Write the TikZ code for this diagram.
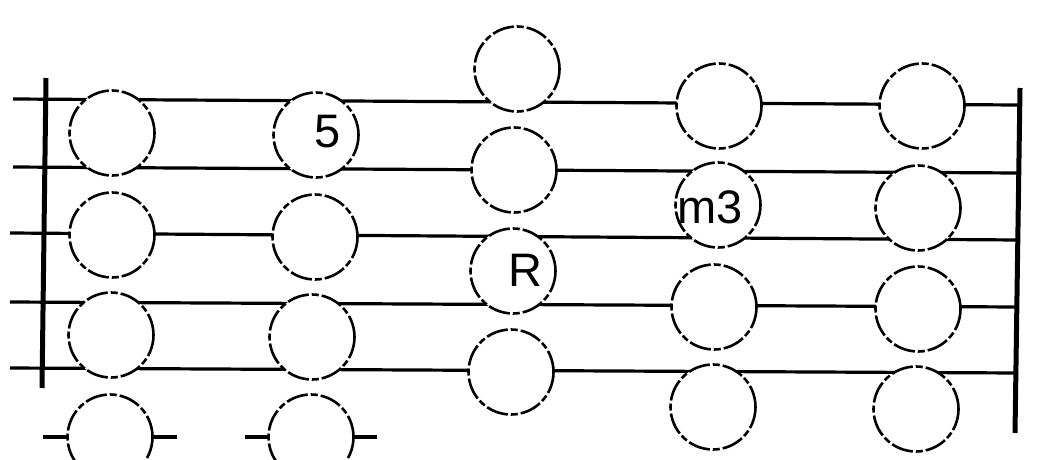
\documentclass[tikz,border=0pt]{standalone}
\usepackage{fontspec}
\setmainfont{Liberation Sans}
\usetikzlibrary{calc}

\tikzset{
  fret/.style={circle, draw, fill=white, line width=2.6pt, minimum size=85pt, inner sep=0pt,
    dash pattern=on 22pt off 3pt on 7pt off 3pt},
  strline/.style={line width=3.2pt},
  barline/.style={line width=5pt},
  tone/.style={font=\fontsize{47}{47}\selectfont, inner sep=0pt}
}

\begin{document}
\begin{tikzpicture}[x=1pt, y=-1pt]
	\useasboundingbox (0,0) rectangle (1038,460);

	% string ends
	\coordinate (L1) at (13,99);
	\coordinate (R1) at (1018,105);
	\coordinate (L2) at (13,167);
	\coordinate (R2) at (1018,173);
	\coordinate (L3) at (10,233);
	\coordinate (R3) at (1018,240);
	\coordinate (L4) at (10,302);
	\coordinate (R4) at (1018,307);
	\coordinate (L5) at (10,368);
	\coordinate (R5) at (1018,373);

	\draw[strline] (L1) -- (R1);
	\draw[strline] (L2) -- (R2);
	\draw[strline] (L3) -- (R3);
	\draw[strline] (L4) -- (R4);
	\draw[strline] (L5) -- (R5);
	\draw[strline] (43,437) -- (177,437);
	\draw[strline] (245,437) -- (377,437);

	\draw[barline] (46,78) -- (42,388);
	\draw[barline] (1020,88) -- (1015,433);

	% first column
	\node[fret] (a1) at (112,133) {};
	\node[fret] (a2) at (112,235) {};
	\node[fret] (a3) at (111,335) {};
	\node[fret] (a4) at (110,437) {};
	% second column
	\node[fret] (b1) at (316,135) {};
	\node[fret] (b2) at (315,237) {};
	\node[fret] (b3) at (312,337) {};
	\node[fret] (b4) at (311,437) {};
	% third column
	\node[fret] (c1) at (517,69) {};
	\node[fret] (c2) at (514,170) {};
	\node[fret] (c3) at (513,271) {};
	\node[fret] (c4) at (511,372) {};
	% fourth column
	\node[fret] (d1) at (719,106) {};
	\node[fret] (d2) at (718,205) {};
	\node[fret] (d3) at (714,307) {};
	\node[fret] (d4) at (713,407) {};
	% fifth column
	\node[fret] (e1) at (922,106) {};
	\node[fret] (e2) at (918,208) {};
	\node[fret] (e3) at (918,309) {};
	\node[fret] (e4) at (916,409) {};

	\node[tone] (five) at ($ (b1)+(12,-3) $) {5};
	\node[tone] (root) at ($ (c3)+(12,-1) $) {R};
	\node[tone] (minthird) at ($ (d2)+(-8,2) $) {m3};

\end{tikzpicture}
\end{document}
